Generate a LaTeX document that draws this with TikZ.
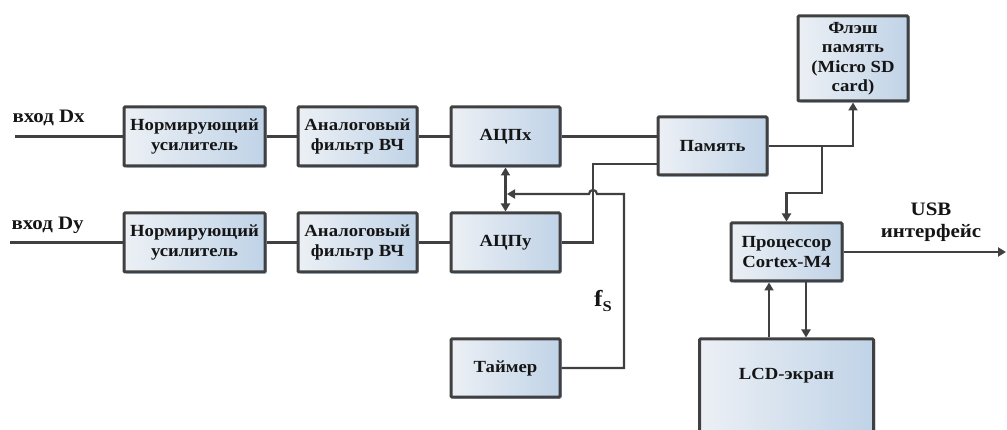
\documentclass[tikz,border=0pt]{standalone}
\usepackage{fontspec}
\setmainfont{Liberation Serif}[FakeStretch=1.1]
\usetikzlibrary{arrows.meta,shadows}

\definecolor{edge}{HTML}{404040}
\definecolor{boxl}{HTML}{ECF0F5}
\definecolor{boxr}{HTML}{C0D3E7}
\definecolor{shadowblue}{HTML}{7FA6D6}
\definecolor{ink}{HTML}{151515}

\tikzset{
  blk/.style={draw=edge, line width=3pt, left color=boxl, right color=boxr,
    rounded corners=1pt, align=center, text=ink, inner sep=2pt,
    font=\bfseries\fontsize{17}{19.5}\selectfont,
    drop shadow={shadow xshift=1.8pt, shadow yshift=-1.8pt, fill=shadowblue, opacity=0.55}},
  wire/.style={draw=edge, line width=2.2pt},
  arr/.style={wire, -{Triangle[length=8pt,width=9pt]}},
  darr/.style={wire, {Triangle[length=8pt,width=9pt]}-{Triangle[length=8pt,width=9pt]}},
  lbl/.style={font=\bfseries\fontsize{19}{22}\selectfont, text=ink, align=center},
}

\begin{document}
\begin{tikzpicture}[x=1pt,y=-1pt]
\useasboundingbox (0,0) rectangle (1007,430);
\clip (0,0) rectangle (1007,430);

% channel X
\node[blk, minimum width=141, minimum height=59] (nx) at (194.5,136.5) {Нормирующий\\усилитель};
\node[blk, minimum width=119, minimum height=59] (fx) at (357.5,136.5) {Аналоговый\\фильтр ВЧ};
\node[blk, minimum width=109, minimum height=59] (adcx) at (505.5,136.5) {АЦПx};

% channel Y
\node[blk, minimum width=141, minimum height=59] (ny) at (194.5,242.5) {Нормирующий\\усилитель};
\node[blk, minimum width=119, minimum height=59] (fy) at (357.5,242.5) {Аналоговый\\фильтр ВЧ};
\node[blk, minimum width=109, minimum height=59] (adcy) at (505.5,242.5) {АЦПy};

% timer, memory, storage, processor, display
\node[blk, minimum width=109, minimum height=58] (timer) at (505.5,368) {Таймер};
\node[blk, minimum width=109, minimum height=58] (mem) at (712.5,146) {Память};
\node[blk, minimum width=110, minimum height=85] (flash) at (853,58.5) {Флэш\\память\\(Micro SD\\card)};
\node[blk, minimum width=111, minimum height=58] (proc) at (786.5,252) {Процессор\\Cortex-M4};
\node[blk, minimum width=174, minimum height=112] (lcd) at (786.5,395) {LCD-экран\\[22pt]};

% input labels and free ends
\node[lbl, anchor=west] (lx) at (9,118) {вход Dx};
\node[lbl, anchor=west] (ly) at (8,225) {вход Dy};
\coordinate (inx) at (15,136.5);
\coordinate (iny) at (10,242.5);

% signal chains
\draw[wire] (inx) -- (nx.west);
\draw[wire] (nx.east) -- (fx.west);
\draw[wire] (fx.east) -- (adcx.west);
\draw[wire] (iny) -- (ny.west);
\draw[wire] (ny.east) -- (fy.west);
\draw[wire] (fy.east) -- (adcy.west);

% ADC outputs to memory
\draw[wire] (adcx.east) -- (adcx.east -| mem.west);
\coordinate (ybend) at (593,164);
\draw[wire] (adcy.east) -| (ybend) -- (ybend -| mem.west);

% sampling clock from the timer
\coordinate (tk) at (624,194);
\coordinate (jmp) at (593,194);
\coordinate (tip) at (507,194);
\draw[arr] (timer.east) -| (tk) -- ([xshift=4pt]jmp) arc[start angle=0, end angle=180, radius=4pt] -- (tip);
\draw[darr] (adcx.south) -- (adcy.north);
\node[text=ink, font=\bfseries] (fs) at (603,301)
  {\fontsize{23}{23}\selectfont f\raisebox{-5pt}{\fontsize{15}{15}\selectfont S}};

% memory to flash and processor
\draw[arr] (mem.east) -| (flash.south);
\coordinate (br) at (822,146);
\draw[arr] (br) -- ++(0,47) -| (proc.north);

% USB output
\coordinate (usb) at (1006,252);
\draw[arr] (proc.east) -- (usb);
\node[lbl] (usbl) at (931,222) {USB\\интерфейс};

% processor <-> display
\draw[arr] ([xshift=-17.5pt]lcd.north) -- ([xshift=-17.5pt]proc.south);
\draw[arr] ([xshift=19.5pt]proc.south) -- ([xshift=19.5pt]lcd.north);
\end{tikzpicture}
\end{document}
